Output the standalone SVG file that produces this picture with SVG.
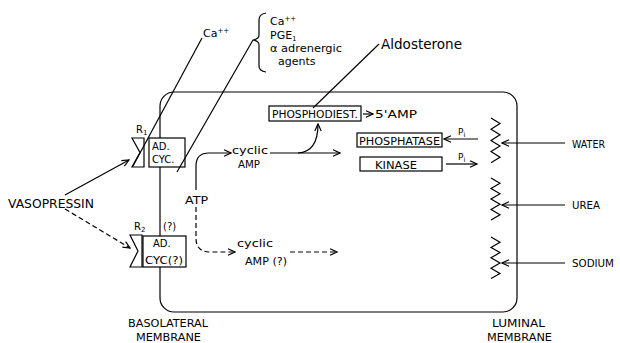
<svg xmlns="http://www.w3.org/2000/svg" width="620" height="343" viewBox="0 0 620 343">
<defs>
<marker id="ah" markerWidth="9" markerHeight="8" refX="8" refY="4" orient="auto" markerUnits="userSpaceOnUse">
<path d="M1,0.8 L8,4 L1,7.2" fill="none" stroke="#000" stroke-width="1.2"/>
</marker>
<style>
text{font-family:"DejaVu Sans","Liberation Sans",sans-serif;fill:#000}
.ln{fill:none;stroke:#000;stroke-width:1.2}
.ds{fill:none;stroke:#000;stroke-width:1.2;stroke-dasharray:5 3}
.bx{fill:#fff;stroke:#000;stroke-width:1.2}
.s9{font-size:9px}
.s10{font-size:10px}
.s11{font-size:11px}
.s12{font-size:12px}
</style>
</defs>
<rect width="620" height="343" fill="#fff"/>

<g id="cell">
<rect class="ln" x="160" y="92" width="357" height="220" rx="14"/>
</g>

<g id="labels">
<text class="s12" x="8" y="208" textLength="86" lengthAdjust="spacingAndGlyphs">VASOPRESSIN</text>
<text class="s11" x="203" y="37">Ca<tspan dy="-4" font-size="7">++</tspan></text>
<text class="s11" x="270" y="25">Ca<tspan dy="-4" font-size="7">++</tspan></text>
<text class="s11" x="270" y="39">PGE<tspan dy="2" font-size="7">1</tspan></text>
<text class="s11" x="270" y="52" textLength="72" lengthAdjust="spacingAndGlyphs">α adrenergic</text>
<text class="s11" x="278" y="65">agents</text>
<text x="381" y="49" font-size="14" textLength="81" lengthAdjust="spacingAndGlyphs">Aldosterone</text>
<text class="s10" x="128" y="327" textLength="80" lengthAdjust="spacingAndGlyphs">BASOLATERAL</text>
<text class="s10" x="136" y="341" textLength="65" lengthAdjust="spacingAndGlyphs">MEMBRANE</text>
<text class="s10" x="492" y="327" textLength="53" lengthAdjust="spacingAndGlyphs">LUMINAL</text>
<text class="s10" x="487" y="341" textLength="65" lengthAdjust="spacingAndGlyphs">MEMBRANE</text>
<text class="s10" x="572" y="148" textLength="33" lengthAdjust="spacingAndGlyphs">WATER</text>
<text class="s10" x="572" y="209" textLength="28" lengthAdjust="spacingAndGlyphs">UREA</text>
<text class="s10" x="572" y="267" textLength="42" lengthAdjust="spacingAndGlyphs">SODIUM</text>
<text class="s10" x="185" y="204" textLength="23" lengthAdjust="spacingAndGlyphs">ATP</text>
<text class="s11" x="232" y="154" textLength="36" lengthAdjust="spacingAndGlyphs">cyclic</text>
<text class="s11" x="238" y="168" textLength="22" lengthAdjust="spacingAndGlyphs">AMP</text>
<text class="s11" x="237" y="247" textLength="36" lengthAdjust="spacingAndGlyphs">cyclic</text>
<text class="s11" x="245" y="265" textLength="42" lengthAdjust="spacingAndGlyphs">AMP (?)</text>
<text class="s10" x="375" y="118" textLength="42" lengthAdjust="spacingAndGlyphs">5'AMP</text>
<text class="s9" x="458" y="135">P<tspan dy="2" font-size="7">i</tspan></text>
<text class="s9" x="458" y="160">P<tspan dy="2" font-size="7">i</tspan></text>
<text class="s10" x="136" y="133">R<tspan dy="2" font-size="7">1</tspan></text>
<text class="s10" x="134" y="230">R<tspan dy="2" font-size="7">2</tspan></text>
<text class="s10" x="163" y="230">(?)</text>
</g>

<g id="brace">
<path class="ln" d="M266,13 Q259,14 259,20 L259,35 Q259,39 253,40 Q259,41 259,45 L259,66 Q259,71 266,72"/>
</g>

<g id="R1">
<path class="ln" d="M132,138 L144,138 L144,167 L132,167 L140,152.5 Z"/>
</g>
<g id="adcyc1">
<rect class="bx" x="149" y="138" width="36" height="29"/>
<text class="s10" x="152" y="150">AD.</text>
<text class="s10" x="152" y="163">CYC.</text>
</g>

<g id="R2">
<path class="ln" d="M130,235 L142,235 L142,267 L130,267 L138,251 Z"/>
</g>
<g id="adcyc2">
<rect class="bx" x="143" y="236" width="43" height="31"/>
<text class="s10" x="153" y="247">AD.</text>
<text class="s10" x="145" y="264" textLength="38" lengthAdjust="spacingAndGlyphs">CYC(?)</text>
</g>

<g id="phosphodiest">
<rect class="bx" x="269" y="106" width="92" height="15"/>
<text class="s10" x="272" y="118" textLength="86" lengthAdjust="spacingAndGlyphs">PHOSPHODIEST.</text>
</g>
<g id="phosphatase">
<rect class="bx" x="357" y="133" width="85" height="14"/>
<text class="s10" x="359" y="144.5" textLength="81" lengthAdjust="spacingAndGlyphs">PHOSPHATASE</text>
</g>
<g id="kinase">
<rect class="bx" x="360" y="157" width="82" height="14"/>
<text class="s10" x="375" y="168.5" textLength="42" lengthAdjust="spacingAndGlyphs">KINASE</text>
</g>

<g id="channels">
<polyline class="ln" points="491,118 500,123.6 491,129.2 500,134.8 491,140.4 500,146 491,151.6 500,157.2 491,162.8"/>
<polyline class="ln" points="491,178 500,183.3 491,188.5 500,193.8 491,199 500,204.3 491,209.5 500,214.8 491,220"/>
<polyline class="ln" points="491,237 500,242.2 491,247.4 500,252.6 491,257.8 500,263 491,268.2 500,273.4 491,278.6"/>
</g>

<g id="connectors">
<line class="ln" x1="202" y1="38" x2="133" y2="166"/>
<line class="ln" x1="253" y1="40" x2="177" y2="172"/>
<line class="ln" x1="379" y1="44" x2="313" y2="108"/>
<line class="ln" x1="65" y1="195" x2="129" y2="160" marker-end="url(#ah)"/>
<line class="ds" x1="65" y1="209" x2="130" y2="248" marker-end="url(#ah)"/>
<path class="ln" d="M196,190 L196,166 Q196,153 209,153 L231,153" marker-end="url(#ah)"/>
<path class="ds" d="M196,207 L196,238 Q196,252 210,252 L235,252" marker-end="url(#ah)"/>
<line class="ln" x1="270" y1="153" x2="340" y2="153" marker-end="url(#ah)"/>
<path class="ln" d="M298,153 Q318,152 318,124" marker-end="url(#ah)"/>
<line class="ds" x1="290" y1="252" x2="337" y2="252" marker-end="url(#ah)"/>
<line class="ln" x1="363" y1="114" x2="373" y2="114" marker-end="url(#ah)"/>
<line class="ln" x1="478" y1="139" x2="444" y2="139" marker-end="url(#ah)"/>
<line class="ln" x1="446" y1="164" x2="477" y2="164" marker-end="url(#ah)"/>
<line class="ln" x1="565" y1="143" x2="502" y2="143" marker-end="url(#ah)"/>
<line class="ln" x1="565" y1="205" x2="502" y2="205" marker-end="url(#ah)"/>
<line class="ln" x1="565" y1="263" x2="502" y2="263" marker-end="url(#ah)"/>
</g>
</svg>
